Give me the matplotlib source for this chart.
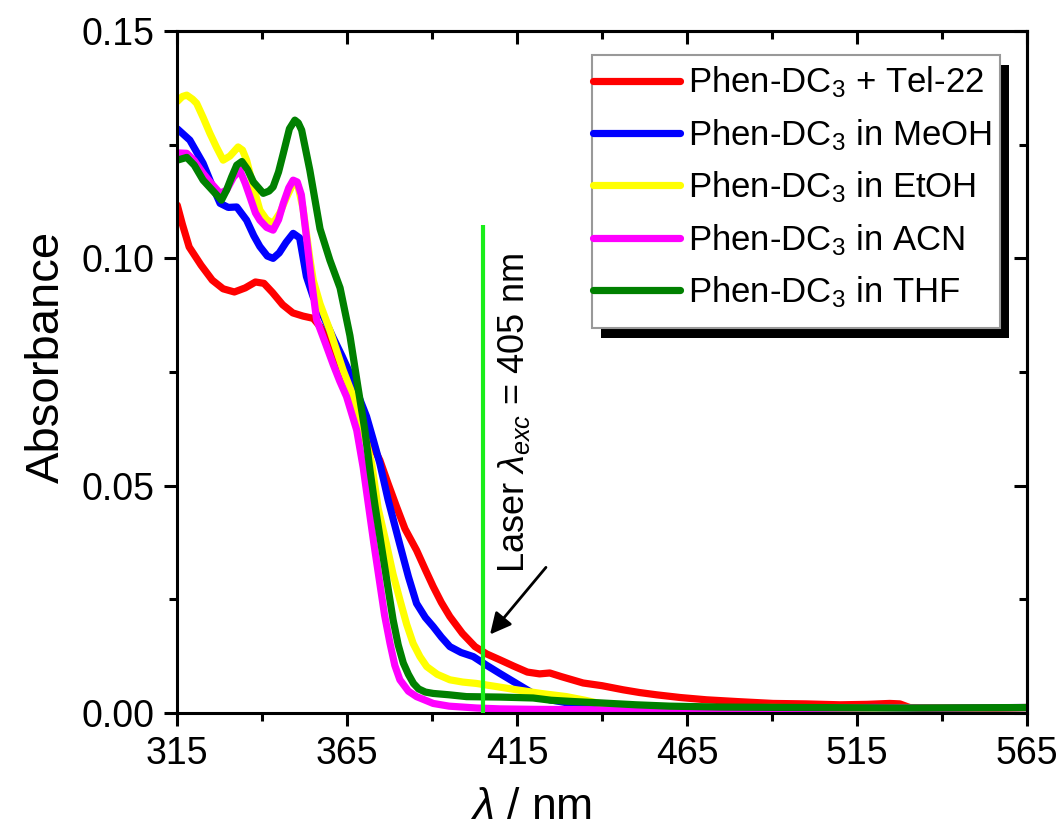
import matplotlib
matplotlib.use("Agg")
import matplotlib.pyplot as plt
from matplotlib.patches import Rectangle
from matplotlib.ticker import FixedLocator, FormatStrFormatter

plt.rcParams['font.family'] = ['Liberation Sans', 'DejaVu Sans']
plt.rcParams['mathtext.fontset'] = 'custom'
plt.rcParams['mathtext.rm'] = 'Liberation Sans'
plt.rcParams['mathtext.it'] = 'Liberation Sans:italic'
plt.rcParams['mathtext.default'] = 'regular'

# absorption spectra (wavelength in nm, absorbance)
red_nm = [315, 316.5, 318.5, 322, 325.3, 328.5, 331.8, 335, 338, 340.5,
          343, 346, 349, 352, 355, 357, 360, 363, 366, 369,
          372, 374.6, 377, 379.5, 382, 385.4, 388, 390.3, 392.7, 395.2,
          398.9, 402.6, 406, 409.9, 414, 418, 421.6, 424.6, 428, 434.4,
          440, 446.2, 451, 456, 463, 470.7, 480, 490.3, 500, 510,
          518, 524.6, 527.6, 530.5, 535, 545, 555, 565]
red_abs = [0.1117, 0.1075, 0.1025, 0.0985, 0.0952, 0.0933, 0.0926, 0.0935, 0.0948, 0.0945,
           0.0925, 0.0898, 0.0880, 0.0873, 0.0868, 0.0850, 0.0810, 0.0765, 0.0705, 0.0645,
           0.0595, 0.0556, 0.0505, 0.0454, 0.0405, 0.0358, 0.0315, 0.0278, 0.0243, 0.0212,
           0.0175, 0.0146, 0.0130, 0.0117, 0.0103, 0.0090, 0.0086, 0.0088, 0.0080, 0.0066,
           0.0060, 0.0051, 0.0045, 0.0040, 0.0034, 0.0029, 0.0025, 0.0021, 0.0020, 0.0018,
           0.0019, 0.0021, 0.0020, 0.0012, 0.0010, 0.0009, 0.0010, 0.0012]

blue_nm = [315, 318.7, 322.6, 325, 327.6, 330, 332.5, 335.4, 337.5, 339.3,
           341.5, 343.2, 345, 347, 349.1, 351, 353, 355, 357.5, 360.9,
           363.5, 365.8, 368.2, 370.7, 372.7, 374.6, 377, 380.5, 383, 385.4,
           388, 390.3, 392.7, 395.2, 398.5, 402.1, 406, 409.9, 414.8, 419.7,
           424.6, 430, 440, 450, 465, 480, 500, 520, 540, 565]
blue_abs = [0.1285, 0.1260, 0.1209, 0.1165, 0.1121, 0.1112, 0.1113, 0.1084, 0.1050, 0.1026,
            0.1005, 0.1000, 0.1012, 0.1035, 0.1055, 0.1045, 0.0960, 0.0915, 0.0880, 0.0825,
            0.0785, 0.0747, 0.0700, 0.0652, 0.0600, 0.0549, 0.0470, 0.0370, 0.0300, 0.0241,
            0.0210, 0.0190, 0.0167, 0.0146, 0.0133, 0.0124, 0.0105, 0.0087, 0.0065, 0.0043,
            0.0029, 0.0022, 0.0016, 0.0013, 0.0012, 0.0011, 0.0011, 0.0012, 0.0011, 0.0012]

yellow_nm = [315, 316.5, 317.8, 319.5, 320.7, 322.6, 324.6, 326.5, 328.5, 330.5,
             332.9, 334.2, 335.4, 337.3, 339.3, 341.3, 343.2, 345.2, 347.2, 349.1,
             350.5, 352, 354, 355, 357, 359.9, 363.8, 366.8, 369.7, 372.2,
             374.1, 376.6, 378.5, 380.5, 382.5, 384.4, 386.4, 388.4, 391.5, 395.2,
             399, 403, 409, 414.8, 422, 429.5, 435, 439.3, 445, 455,
             470, 490, 510, 530, 550, 565]
yellow_abs = [0.1345, 0.1356, 0.1359, 0.1350, 0.1341, 0.1310, 0.1275, 0.1245, 0.1216, 0.1225,
              0.1245, 0.1238, 0.1216, 0.1160, 0.1106, 0.1085, 0.1077, 0.1100, 0.1135, 0.1165,
              0.1160, 0.1110, 0.1000, 0.0952, 0.0900, 0.0842, 0.0754, 0.0696, 0.0622, 0.0549,
              0.0450, 0.0370, 0.0305, 0.0249, 0.0195, 0.0153, 0.0124, 0.0102, 0.0085, 0.0073,
              0.0068, 0.0065, 0.0058, 0.0051, 0.0043, 0.0036, 0.0028, 0.0021, 0.0015, 0.0012,
              0.0011, 0.0012, 0.0011, 0.0012, 0.0011, 0.0012]

magenta_nm = [315, 317.8, 320, 322.6, 325, 327.6, 329.5, 331.5, 333.4, 335,
              336.4, 338, 339.3, 341.3, 343.2, 344.8, 346.2, 347.8, 349.1, 350.3,
              351.5, 353, 354.5, 356, 358.5, 360.9, 362.8, 364.8, 367.8, 369.7,
              371.2, 372.8, 374.6, 376, 377.6, 379, 380.5, 383, 385.4, 390.3,
              395, 403, 410, 420, 440, 460, 480, 500, 520, 540,
              565]
magenta_abs = [0.1232, 0.1231, 0.1215, 0.1187, 0.1165, 0.1143, 0.1150, 0.1178, 0.1194, 0.1165,
               0.1135, 0.1100, 0.1084, 0.1068, 0.1062, 0.1085, 0.1121, 0.1155, 0.1172, 0.1168,
               0.1140, 0.1047, 0.0950, 0.0865, 0.0815, 0.0766, 0.0730, 0.0696, 0.0622, 0.0540,
               0.0460, 0.0375, 0.0285, 0.0215, 0.0153, 0.0105, 0.0073, 0.0048, 0.0036, 0.0021,
               0.0015, 0.0011, 0.0009, 0.0008, 0.0007, 0.0008, 0.0009, 0.0010, 0.0012, 0.0011,
               0.0012]

green_nm = [315, 317.8, 320, 322.6, 325.3, 328, 329.5, 331, 332.5, 334,
            335.7, 337.4, 340.3, 342, 343.2, 344.8, 346.2, 348, 349.6, 350.6,
            351.6, 354, 357, 359.9, 362.9, 365.8, 368.2, 370.2, 371.7, 373.2,
            375, 376.8, 378.5, 380, 381.5, 383, 384.5, 386, 388, 390.3,
            395, 400.1, 410, 419.7, 425, 432, 440, 450, 460, 475,
            500, 530, 565]
green_abs = [0.1216, 0.1222, 0.1205, 0.1172, 0.1150, 0.1128, 0.1150, 0.1179, 0.1205, 0.1213,
             0.1195, 0.1168, 0.1143, 0.1148, 0.1157, 0.1190, 0.1231, 0.1285, 0.1304, 0.1298,
             0.1282, 0.1194, 0.1065, 0.0996, 0.0935, 0.0830, 0.0715, 0.0622, 0.0534, 0.0455,
             0.0370, 0.0285, 0.0205, 0.0150, 0.0110, 0.0085, 0.0065, 0.0053, 0.0046, 0.0043,
             0.0040, 0.0036, 0.0035, 0.0033, 0.0028, 0.0025, 0.0022, 0.0018, 0.0015, 0.0013,
             0.0012, 0.0011, 0.0012]

labels = [r'Phen-DC$_3$ + Tel-22', r'Phen-DC$_3$ in MeOH', r'Phen-DC$_3$ in EtOH',
          r'Phen-DC$_3$ in ACN', r'Phen-DC$_3$ in THF']

x_major = [315, 365, 415, 465, 515, 565]
x_minor = [340, 390, 440, 490, 540]
y_major = [0.0, 0.05, 0.10, 0.15]
y_minor = [0.025, 0.075, 0.125]

laser_nm = 405
laser_top = 0.1073

fig = plt.figure(figsize=(10.64, 8.34), dpi=100)
ax = fig.add_axes([0.1666, 0.1451, 0.7986, 0.8177])

series = [(red_nm, red_abs, '#ff0000'), (blue_nm, blue_abs, '#0000ff'),
          (yellow_nm, yellow_abs, '#ffff00'), (magenta_nm, magenta_abs, '#ff00ff'),
          (green_nm, green_abs, '#008000')]
for (x, y, c), lab in zip(series, labels):
    ax.plot(x, y, color=c, lw=5.2, label=lab,
            solid_capstyle='round', solid_joinstyle='round')

# laser line + annotation
ax.vlines(laser_nm, 0, laser_top, color='#1aee1a', lw=3, zorder=5)
ax.text(laser_nm + 9, 0.066, r'Laser $\mathit{\lambda}_{\mathit{exc}}$ = 405 nm',
        rotation=90, ha='center', va='center', fontsize=26)
ax.annotate('', xy=(laser_nm + 1.5, 0.0168), xytext=(laser_nm + 19, 0.0325),
            arrowprops=dict(arrowstyle='-|>', color='k', lw=2, mutation_scale=32))

ax.set_xlim(315, 565)
ax.set_ylim(0, 0.15)

ax.xaxis.set_major_locator(FixedLocator(x_major))
ax.xaxis.set_minor_locator(FixedLocator(x_minor))
ax.yaxis.set_major_locator(FixedLocator(y_major))
ax.yaxis.set_minor_locator(FixedLocator(y_minor))
ax.yaxis.set_major_formatter(FormatStrFormatter('%.2f'))

for s in ax.spines.values():
    s.set_linewidth(2.2)
ax.tick_params(which='both', direction='out', width=2.2, labelsize=27, pad=7)
ax.tick_params(which='major', length=9.5)
ax.tick_params(which='minor', length=5.5)

# mirrored ticks pointing inward on top and right
top = ax.secondary_xaxis('top')
top.xaxis.set_major_locator(FixedLocator(x_major))
top.xaxis.set_minor_locator(FixedLocator(x_minor))
right = ax.secondary_yaxis('right')
right.yaxis.set_major_locator(FixedLocator(y_major))
right.yaxis.set_minor_locator(FixedLocator(y_minor))
for sec in (top, right):
    sec.tick_params(which='both', direction='in', width=2.2, labelleft=False,
                    labelright=False, labeltop=False, labelbottom=False)
    sec.tick_params(which='major', length=9.5)
    sec.tick_params(which='minor', length=5.5)
    for s in sec.spines.values():
        s.set_linewidth(2.2)

ax.set_xlabel(r'$\mathit{\lambda}$ / nm', fontsize=32)
ax.xaxis.set_label_coords(0.416, -0.108)
ax.set_ylabel('Absorbance', fontsize=34)
ax.yaxis.set_label_coords(-0.128, 0.522)

# legend box with a solid black drop shadow
box = (0.4877, 0.564, 0.4805, 0.4008)
ax.add_patch(Rectangle((box[0] + 0.0106, box[1] - 0.0147), box[2], box[3],
                       transform=ax.transAxes, facecolor='black', edgecolor='none',
                       zorder=6, clip_on=False))
ax.add_patch(Rectangle(box[:2], box[2], box[3], transform=ax.transAxes,
                       facecolor='white', edgecolor='#999999', lw=1.5,
                       zorder=7, clip_on=False))
leg = ax.legend(loc='upper left', bbox_to_anchor=(0.4892, 0.9505), borderaxespad=0,
                fontsize=25, handlelength=2.5, handletextpad=0.25, labelspacing=0.48,
                borderpad=0, frameon=False)
leg.set_zorder(8)

fig.savefig('out.png', dpi=100)
